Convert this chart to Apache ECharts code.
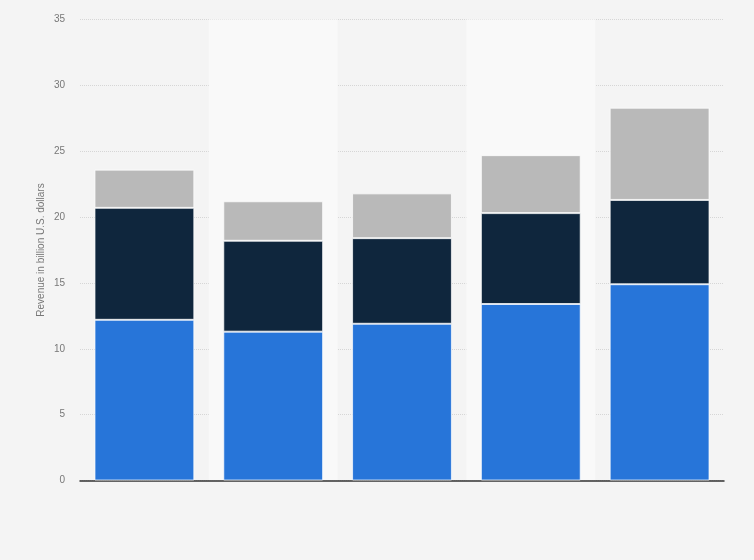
<!DOCTYPE html>
<html>
<head>
<meta charset="utf-8">
<script src="https://cdn.jsdelivr.net/npm/echarts@6/dist/echarts.min.js"></script>
<style>
html,body{margin:0;padding:0;background:#f4f4f4;}
#c{width:754px;height:560px;}
</style>
</head>
<body>
<div id="c"></div>
<script>
var categories = ['Year 1', 'Year 2', 'Year 3', 'Year 4', 'Year 5'];
var seriesBlue = [12.2, 11.3, 11.9, 13.4, 14.9];
var seriesDark = [8.5, 6.9, 6.5, 6.9, 6.4];
var seriesGray = [2.9, 3.0, 3.4, 4.4, 7.0];
var yTicks = [0, 5, 10, 15, 20, 25, 30, 35];

var chart = echarts.init(document.getElementById('c'));
var border = {borderColor: 'rgba(255,255,255,0.7)', borderWidth: 1};
function mk(name, data, color) {
  return {
    name: name, type: 'bar', stack: 'total', data: data, barWidth: '77.5%',
    itemStyle: Object.assign({color: color}, border),
    emphasis: {disabled: true}
  };
}
chart.setOption({
  backgroundColor: '#f4f4f4',
  animation: false,
  grid: {left: 80, right: 30, top: 19.5, bottom: 79.5},
  xAxis: {
    type: 'category',
    data: categories,
    axisLine: {show: true, lineStyle: {color: '#333', width: 1.5}},
    axisTick: {show: false},
    axisLabel: {show: false},
    splitArea: {show: true, areaStyle: {color: ['rgba(0,0,0,0)', '#f9f9f9']}}
  },
  yAxis: {
    type: 'value',
    min: yTicks[0],
    max: yTicks[yTicks.length - 1],
    interval: 5,
    name: 'Revenue in billion U.S. dollars',
    nameLocation: 'middle',
    nameGap: 34,
    nameMoveOverlap: false,
    nameTextStyle: {color: '#777', fontSize: 10, fontFamily: 'Arial, Liberation Sans, sans-serif'},
    axisLine: {show: false},
    axisTick: {show: false},
    axisLabel: {color: '#777', fontSize: 10, margin: 15, fontFamily: 'Arial, Liberation Sans, sans-serif'},
    splitLine: {show: true, lineStyle: {color: '#d6d6d6', type: [1, 1], width: 1}}
  },
  series: [
    mk('Segment 1', seriesBlue, '#2775d9'),
    mk('Segment 2', seriesDark, '#0f263d'),
    mk('Segment 3', seriesGray, '#b9b9b9')
  ]
});
</script>
</body>
</html>
